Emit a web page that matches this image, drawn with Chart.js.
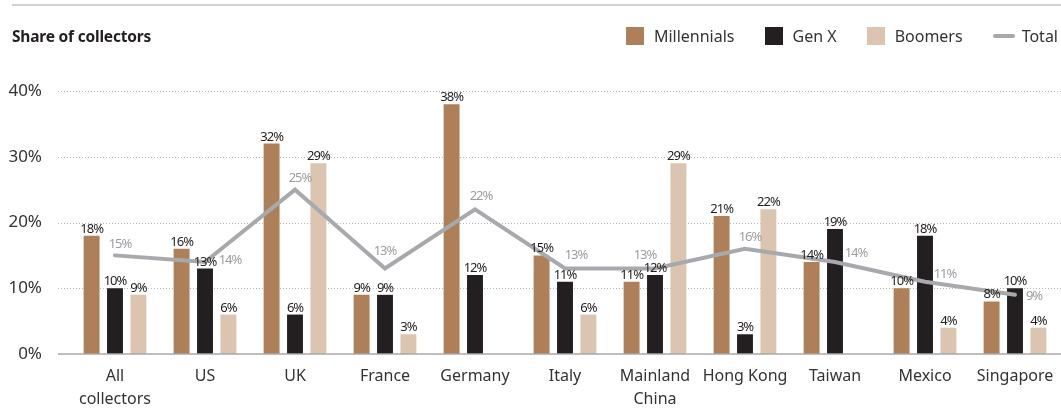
<!DOCTYPE html>
<html>
<head>
<meta charset="utf-8">
<script src="https://cdn.jsdelivr.net/npm/chart.js@4"></script>
<style>
  body { margin: 0; background: #fff; font-family: "Noto Sans", sans-serif; color: #231f20; }
  #wrap { position: relative; width: 1061px; height: 420px; overflow: hidden; }
  #topLine { position: absolute; top: 4px; left: 12px; right: 0; height: 2px; background: #d2d2d2; }
  #title { position: absolute; left: 12px; top: 25px; font-size: 15.5px; font-weight: bold; line-height: 22px; z-index: 2; letter-spacing: -0.2px; }
  #legend { position: absolute; right: 3px; top: 26px; display: flex; align-items: center; font-size: 16px; line-height: 20px; z-index: 2; color: #333; }
  #legend .item { display: flex; align-items: center; margin-left: 30px; }
  #legend .box { width: 18px; height: 18px; margin-right: 10px; }
  #legend .ln { width: 22px; height: 4px; border-radius: 2px; margin-right: 7px; }
  canvas { position: absolute; left: 0; top: 0; }
</style>
</head>
<body>
<div id="wrap">
  <div id="topLine"></div>
  <div id="title">Share of collectors</div>
  <div id="legend"></div>
  <canvas id="chart" width="1061" height="420"></canvas>
</div>
<script>
// data
const categories = [['All', 'collectors'], 'US', 'UK', 'France', 'Germany', 'Italy', ['Mainland', 'China'], 'Hong Kong', 'Taiwan', 'Mexico', 'Singapore'];
const millennials = [18, 16, 32, 9, 38, 15, 11, 21, 14, 10, 8];
const genX = [10, 13, 6, 9, 12, 11, 12, 3, 19, 18, 10];
const boomers = [9, 6, 29, 3, null, 6, 29, 22, null, 4, 4];
const total = [15, 14, 25, 13, 22, 13, 13, 16, 14, 11, 9];
const yTicks = [0, 10, 20, 30, 40];

// where each "Total" label sits relative to its point
const totalLabelOffset = [[5, -11], [25, -2], [5, -11], [0, -17], [6, -13], [11, -13], [-10, -13], [5, -12], [21, -9], [20, -7], [19, 1]];

const COLORS = { m: '#ad8059', g: '#231f20', b: '#dbc4b0', t: '#a7a9ac' };

// legend (html)
const legendItems = [
  { label: 'Millennials', color: COLORS.m, type: 'box' },
  { label: 'Gen X', color: COLORS.g, type: 'box' },
  { label: 'Boomers', color: COLORS.b, type: 'box' },
  { label: 'Total', color: COLORS.t, type: 'ln' }
];
const legendEl = document.getElementById('legend');
legendItems.forEach(it => {
  const d = document.createElement('div');
  d.className = 'item';
  d.innerHTML = `<span class="${it.type}" style="background:${it.color}"></span><span>${it.label}</span>`;
  legendEl.appendChild(d);
});

const gridPlugin = {
  id: 'gridLines',
  beforeDatasetsDraw(chart) {
    const ctx = chart.ctx, y = chart.scales.y;
    ctx.save();
    ctx.strokeStyle = '#b8b8b8';
    ctx.lineWidth = 1;
    ctx.setLineDash([1, 2]);
    yTicks.forEach(v => {
      if (v === 0) return;
      const py = Math.round(y.getPixelForValue(v)) + 0.5;
      ctx.beginPath(); ctx.moveTo(58, py); ctx.lineTo(chart.width, py); ctx.stroke();
    });
    ctx.restore();
  },
  afterDatasetsDraw(chart) {
    const ctx = chart.ctx, y = chart.scales.y;
    ctx.save();
    ctx.strokeStyle = '#a8a8a8';
    ctx.lineWidth = 1.5;
    const py = y.getPixelForValue(0);
    ctx.beginPath(); ctx.moveTo(58, py); ctx.lineTo(chart.width, py); ctx.stroke();

    // value labels
    ctx.font = '13px "Noto Sans"';
    ctx.letterSpacing = '-1px';
    ctx.textAlign = 'center';
    chart.data.datasets.forEach((ds, di) => {
      const meta = chart.getDatasetMeta(di);
      meta.data.forEach((el, i) => {
        const v = ds.data[i];
        if (v == null) return;
        if (ds.type === 'line') {
          const [dx, dy] = totalLabelOffset[i];
          ctx.fillStyle = '#9b9da0';
          ctx.textBaseline = 'middle';
          ctx.fillText(v + '%', el.x + dx, el.y + dy);
        } else {
          ctx.fillStyle = '#231f20';
          ctx.textBaseline = 'alphabetic';
          ctx.fillText(v + '%', el.x, el.y - 3);
        }
      });
    });
    ctx.restore();
  }
};

const barOpts = { categoryPercentage: 0.78, barPercentage: 0.68, order: 1 };

new Chart(document.getElementById('chart'), {
  type: 'bar',
  data: {
    labels: categories,
    datasets: [
      { label: 'Millennials', data: millennials, backgroundColor: COLORS.m, ...barOpts },
      { label: 'Gen X', data: genX, backgroundColor: COLORS.g, ...barOpts },
      { label: 'Boomers', data: boomers, backgroundColor: COLORS.b, ...barOpts },
      { type: 'line', label: 'Total', data: total, borderColor: COLORS.t, borderWidth: 4,
        pointRadius: 0, tension: 0, borderCapStyle: 'round', borderJoinStyle: 'miter', order: 0 }
    ]
  },
  options: {
    responsive: false,
    animation: false,
    layout: { padding: { top: 91, right: 1, left: 0, bottom: 0 } },
    plugins: { legend: { display: false }, tooltip: { enabled: false } },
    scales: {
      x: {
        offset: true,
        grid: { display: false },
        border: { display: false },
        ticks: { font: { family: 'Noto Sans', size: 16, lineHeight: 1.45 }, color: '#333', padding: 3, maxRotation: 0, autoSkip: false },
        afterFit(s) { s.height = 66; }
      },
      y: {
        min: 0, max: 40,
        afterBuildTicks(s) { s.ticks = yTicks.map(v => ({ value: v })); },
        ticks: { callback: v => v + '%', font: { family: 'Noto Sans', size: 17 }, color: '#333', padding: 20 },
        grid: { display: false },
        border: { display: false },
        afterFit(s) { s.width = 70; }
      }
    }
  },
  plugins: [gridPlugin]
});
</script>
</body>
</html>
